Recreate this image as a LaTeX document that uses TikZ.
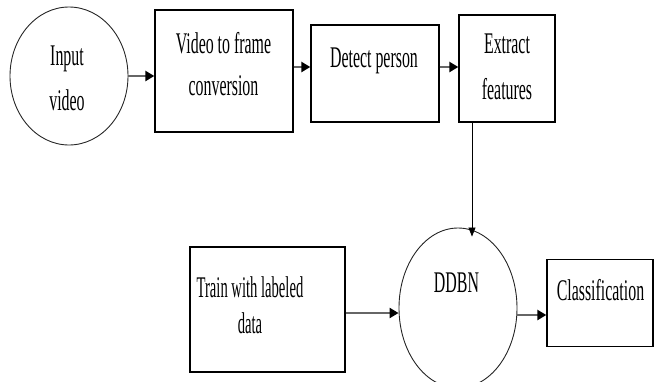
\documentclass[tikz,border=0pt]{standalone}
\usepackage{fontspec}
\setmainfont{Liberation Serif}[FakeStretch=0.53]
\usepackage{xcolor}
\usetikzlibrary{shapes.geometric, arrows.meta}
\colorlet{line-color}{black!60}
\tikzset{
    box/.style 2 args = {draw, line width=1.3pt, inner sep=0pt,
        minimum width=#1, minimum height=#2},
    blob/.style = {ellipse, draw=black!85, line width=0.9pt, inner sep=0pt},
    lbl/.style = {font=\fontsize{30}{#1}\selectfont, align=center, inner sep=0pt},
    lbl/.default = 44,
    arr/.style = {line-color, line width=2.4pt,
        -{Triangle[length=9pt, width=10pt, color=black]}},
    feed/.style = {black, line width=0.8pt,
        -{Triangle[length=9pt, width=7pt]}},
}
\begin{document}
\begin{tikzpicture}[x=1pt,y=-1pt]
\useasboundingbox (0,0) rectangle (654,381);

\node[blob, minimum width=118pt, minimum height=138pt] (input) at (69,76) {};
\node[lbl=45] (input-txt) at (67,78.5) {Input\\video};

\node[box={138pt}{122pt}] (frames) at (224,71) {};
\node[lbl=42] (frames-txt) at (223.5,64) {Video to frame\\conversion};

\node[box={128pt}{97pt}] (detect) at (375,73.5) {};
\node[lbl, anchor=base] (detect-txt) at (374,67) {Detect person};

\node[box={96pt}{107pt}] (extract) at (507,68.5) {};
\node[lbl=46] (extract-txt) at (507,67) {Extract\\features};

\node[blob, minimum width=118pt, minimum height=160pt] (ddbn) at (458,308) {};
\node[lbl, anchor=base] (ddbn-txt) at (456.5,292) {DDBN};

\node[box={155pt}{125pt}] (train) at (267.5,309.5) {};
\node[lbl=36, xscale=0.92] (train-txt) at (250,305) {Train with labeled\\data};

\node[box={106pt}{87pt}] (classify) at (600,303) {};
\node[lbl, anchor=base] (classify-txt) at (600.5,300) {Classification};

\draw[arr] (input.east) -- (input.east -| frames.west);
\draw[arr] ([yshift=4pt]frames.east) -- ([yshift=4pt]frames.east -| detect.west);
\draw[arr] ([yshift=6.5pt]detect.east) -- ([yshift=6.5pt]detect.east -| extract.west);
\draw[feed] ([xshift=-35pt]extract.south) -- ([xshift=14pt,yshift=-9pt]ddbn.north);
\draw[arr] ([yshift=-3.5pt]train.east) -- ([yshift=-3.5pt]train.east -| ddbn.west);
\draw[arr] ([yshift=-12pt]classify.west -| ddbn.east) -- ([yshift=-12pt]classify.west);

\end{tikzpicture}
\end{document}
